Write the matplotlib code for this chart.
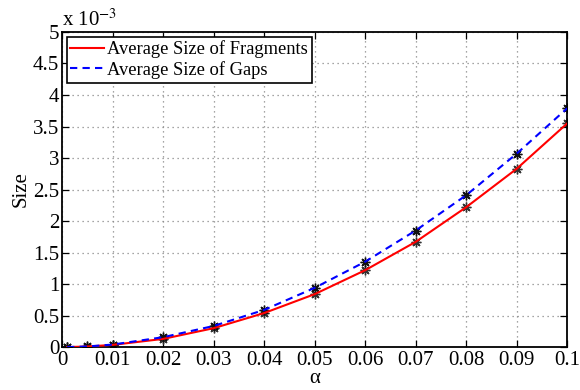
import matplotlib
matplotlib.use('Agg')
import matplotlib.pyplot as plt
from matplotlib.ticker import FuncFormatter

plt.rcParams['font.family'] = ['Liberation Serif', 'DejaVu Serif']
plt.rcParams['mathtext.fontset'] = 'stix'

# data (y in units of 1e-3)
alpha = [0.001, 0.005, 0.01, 0.02, 0.03, 0.04, 0.05, 0.06, 0.07, 0.08, 0.09, 0.1]
frag = [0.0004, 0.009, 0.035, 0.13, 0.30, 0.54, 0.84, 1.22, 1.67, 2.22, 2.83, 3.55]
gaps = [0.0005, 0.010, 0.040, 0.157, 0.335, 0.59, 0.94, 1.355, 1.85, 2.41, 3.07, 3.79]
xticks = [0, 0.01, 0.02, 0.03, 0.04, 0.05, 0.06, 0.07, 0.08, 0.09, 0.1]
yticks = [0, 0.5, 1, 1.5, 2, 2.5, 3, 3.5, 4, 4.5, 5]

fig = plt.figure(figsize=(5.8, 3.9), dpi=100)
ax = fig.add_axes([0.107, 0.11, 0.871, 0.808])

ax.plot(alpha, frag, '-', color='red', lw=1.5, label='Average Size of Fragments', zorder=3)
ax.plot(alpha, gaps, '--', color='blue', lw=1.5, dashes=(3.5, 2.5), label='Average Size of Gaps', zorder=3)
ax.plot(alpha, frag, ls='none', marker=(8, 2, 0), ms=7, mec='#333333', mew=1.0, zorder=2)
ax.plot(alpha, gaps, ls='none', marker=(8, 2, 0), ms=7, mec='#111111', mew=1.0, zorder=2)

ax.set_xlim(0, 0.1)
ax.set_ylim(0, 5)
ax.set_xticks(xticks)
ax.set_yticks(yticks)
ax.xaxis.set_major_formatter(FuncFormatter(lambda v, p: '0' if v == 0 else ('%g' % round(v, 3))))
ax.yaxis.set_major_formatter(FuncFormatter(lambda v, p: '%g' % v))
ax.tick_params(direction='in', top=True, right=True, labelsize=15, length=5, width=0.9, pad=2)
ax.tick_params(axis='x', pad=3)
ax.grid(True, linestyle=(0, (1, 3)), color='#888888', lw=0.9)
for s in ax.spines.values():
    s.set_linewidth(1.3)

ax.set_xlabel(u'α', fontsize=15, labelpad=-1)
ax.set_ylabel('Size', fontsize=15, labelpad=2)
ax.text(0.0, 1.005, r'x 10$^{-3}$', transform=ax.transAxes, fontsize=15, va='bottom', ha='left')

leg = ax.legend(loc='upper left', fontsize=13.3, fancybox=False, edgecolor='black',
                framealpha=1, borderpad=0.2, handlelength=1.8, handletextpad=0.2,
                labelspacing=0.15, borderaxespad=0.25)
leg.get_frame().set_linewidth(1.2)

plt.savefig('out.png', dpi=100)
